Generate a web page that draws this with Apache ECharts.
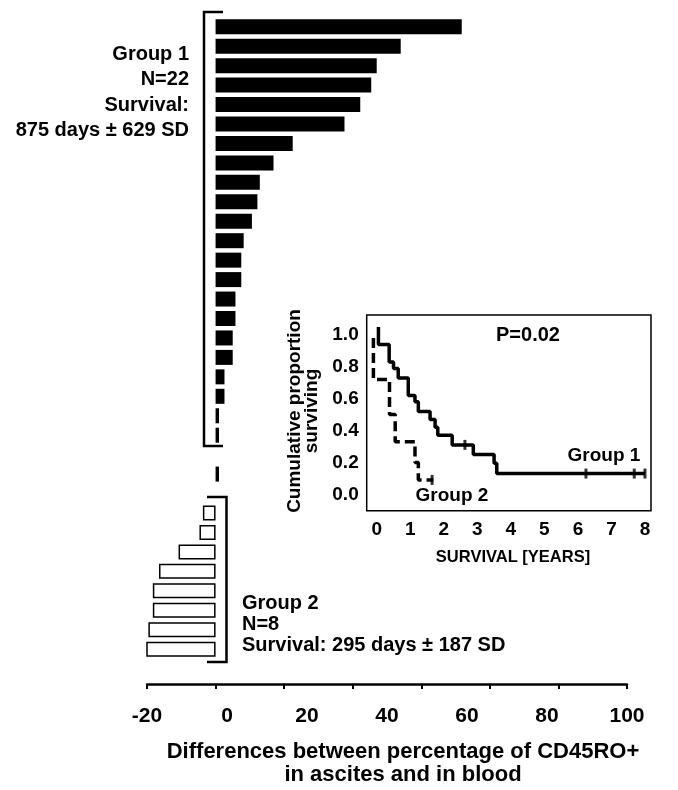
<!DOCTYPE html>
<html><head><meta charset="utf-8">
<script src="https://cdn.jsdelivr.net/npm/echarts@6/dist/echarts.min.js"></script>
<style>html,body{margin:0;padding:0;background:#fff}#c{width:678px;height:790px}</style>
</head><body><div id="c"></div>
<script>
// ---- data ----
const group1Diff = [71.8, 54.0, 47.0, 45.4, 42.2, 37.6, 22.5, 16.9, 12.9, 12.2, 10.6, 8.2, 7.5, 7.5, 5.8, 5.8, 5.0, 5.0, 2.6, 2.6, 1.0, 1.0];
const dividerDiff = [1.0];
const group2Diff = [-3.7, -4.7, -10.8, -16.5, -18.3, -18.3, -19.6, -22.2];
const diffAxisLabels = [-20, 0, 20, 40, 60, 80, 100];
const yearLabels = [0, 1, 2, 3, 4, 5, 6, 7, 8];
const survivalLabels = [0.0, 0.2, 0.4, 0.6, 0.8, 1.0];
const km1 = [[0.05,1.05],[0.05,0.94],[0.37,0.83],[0.5,0.79],[0.64,0.73],[0.94,0.62],[1.14,0.58],[1.24,0.52],[1.59,0.47],[1.74,0.42],[1.82,0.37],[2.25,0.31],[2.88,0.25],[3.5,0.195],[3.58,0.13],[8.0,0.13]];
const km1Censored = [[2.63,0.31],[6.24,0.13],[7.68,0.13],[8.0,0.13]];
const km2 = [[-0.1,0.98],[-0.1,0.72],[0.38,0.5],[0.55,0.33],[1.14,0.2],[1.24,0.09],[1.69,0.09]];
const km2Censored = [[1.65,0.09]];

// ---- build categories (group 1, gap with divider, group 2) ----
const gapBefore = 1, gapAfter = 1;
const categories = [];
group1Diff.forEach((v, i) => categories.push('G1-' + (i + 1)));
for (let i = 0; i < gapBefore; i++) categories.push('gapA' + i);
categories.push('divider');
for (let i = 0; i < gapAfter; i++) categories.push('gapB' + i);
group2Diff.forEach((v, i) => categories.push('G2-' + (i + 1)));
const n = categories.length;
const g1Data = categories.map((c, i) => i < group1Diff.length ? group1Diff[i] : null);
const divIdx = categories.indexOf('divider');
const divData = categories.map((c, i) => i === divIdx ? dividerDiff[0] : null);
const g2Start = n - group2Diff.length;
const g2Data = categories.map((c, i) => i >= g2Start ? group2Diff[i - g2Start] : null);

const FF = '"Liberation Sans", Arial, Helvetica, sans-serif';
const chart = echarts.init(document.getElementById('c'), null, {renderer: 'canvas'});
chart.setOption({
  backgroundColor: '#fff',
  animation: false,
  grid: [
    {left: 147, top: 17, width: 480, height: 641.9},
    {left: 366.7, top: 315, width: 284.3, height: 195.7, show: true, borderColor: '#000', borderWidth: 1.5, backgroundColor: '#fff', z: 5}
  ],
  xAxis: [
    {gridIndex: 0, type: 'value', min: -20, max: 120, interval: 20, position: 'bottom', offset: 25,
     axisLine: {show: true, lineStyle: {color: '#000', width: 2.5}},
     axisTick: {show: true, length: 5, lineStyle: {color: '#000', width: 2}},
     axisLabel: {show: false}, splitLine: {show: false}},
    {gridIndex: 0, type: 'value', min: -20, max: 100, interval: 20, position: 'bottom', offset: 25,
     axisLine: {show: false}, axisTick: {show: false}, splitLine: {show: false},
     axisLabel: {show: true, customValues: diffAxisLabels, margin: 22, color: '#000', fontSize: 21, fontWeight: 'bold', fontFamily: FF}},
    {gridIndex: 1, type: 'value', min: -0.3, max: 8.18, position: 'bottom',
     axisLine: {show: false}, axisTick: {show: false}, splitLine: {show: false},
     axisLabel: {show: true, customValues: yearLabels, margin: 10, color: '#000', fontSize: 19, fontWeight: 'bold', fontFamily: FF}}
  ],
  yAxis: [
    {gridIndex: 0, type: 'category', data: categories, inverse: true, show: false},
    {gridIndex: 1, type: 'value', min: -0.103, max: 1.125,
     axisLine: {show: false}, axisTick: {show: false}, splitLine: {show: false},
     axisLabel: {show: true, customValues: survivalLabels, formatter: v => v.toFixed(1), margin: 8, color: '#000', fontSize: 19, fontWeight: 'bold', fontFamily: FF}}
  ],
  series: [
    {type: 'bar', name: 'Divider', xAxisIndex: 0, yAxisIndex: 0, data: divData, barWidth: 15, barGap: '-100%', itemStyle: {color: '#000'}},
    {type: 'bar', name: 'Group 1', xAxisIndex: 0, yAxisIndex: 0, data: g1Data, barWidth: 15, barGap: '-100%', itemStyle: {color: '#000'}},
    {type: 'bar', name: 'Group 2', xAxisIndex: 0, yAxisIndex: 0, data: g2Data, barWidth: 15, barGap: '-100%', itemStyle: {color: '#fff', borderColor: '#000', borderWidth: 1.5}},
    {type: 'line', name: 'KM Group 1', xAxisIndex: 2, yAxisIndex: 1, data: km1, step: 'end', symbol: 'none', z: 6,
     lineStyle: {color: '#000', width: 3.5}},
    {type: 'line', name: 'KM Group 2', xAxisIndex: 2, yAxisIndex: 1, data: km2, step: 'end', symbol: 'none', z: 6,
     lineStyle: {color: '#000', width: 3.5, type: [10, 5]}},
    {type: 'scatter', name: 'Censored 1', xAxisIndex: 2, yAxisIndex: 1, data: km1Censored, symbol: 'rect', symbolSize: [3, 10], z: 7,
     itemStyle: {color: '#000'}},
    {type: 'scatter', name: 'Censored 2', xAxisIndex: 2, yAxisIndex: 1, data: km2Censored, symbol: 'rect', symbolSize: [3, 10], z: 7,
     itemStyle: {color: '#000'}}
  ],
  graphic: [
    {type: 'polyline', z: 10, shape: {points: [[223, 12], [204, 12], [204, 446], [223, 446]]}, style: {stroke: '#000', lineWidth: 2.5, fill: null}},
    {type: 'polyline', z: 10, shape: {points: [[207, 497], [226.5, 497], [226.5, 662], [207, 662]]}, style: {stroke: '#000', lineWidth: 2.5, fill: null}},
    {type: 'text', z: 10, x: 189, y: 92.5, style: {text: 'Group 1\nN=22\nSurvival:\n875 days \u00b1 629 SD', align: 'right', verticalAlign: 'middle', lineHeight: 25.5, fontSize: 20, fontWeight: 'bold', fontFamily: FF, fill: '#000'}},
    {type: 'text', z: 10, x: 242, y: 624, style: {text: 'Group 2\nN=8\nSurvival: 295 days \u00b1 187 SD', align: 'left', verticalAlign: 'middle', lineHeight: 21, fontSize: 20, fontWeight: 'bold', fontFamily: FF, fill: '#000'}},
    {type: 'text', z: 10, x: 403, y: 763, style: {text: 'Differences between percentage of CD45RO+\nin ascites and in blood', align: 'center', verticalAlign: 'middle', lineHeight: 23, fontSize: 22, fontWeight: 'bold', fontFamily: FF, fill: '#000'}},
    {type: 'text', z: 10, x: 528, y: 335, style: {text: 'P=0.02', align: 'center', verticalAlign: 'middle', fontSize: 20, fontWeight: 'bold', fontFamily: FF, fill: '#000'}},
    {type: 'text', z: 10, x: 604, y: 456, style: {text: 'Group 1', align: 'center', verticalAlign: 'middle', fontSize: 19, fontWeight: 'bold', fontFamily: FF, fill: '#000'}},
    {type: 'text', z: 10, x: 452, y: 496, style: {text: 'Group 2', align: 'center', verticalAlign: 'middle', fontSize: 19, fontWeight: 'bold', fontFamily: FF, fill: '#000'}},
    {type: 'text', z: 10, x: 513, y: 557, style: {text: 'SURVIVAL [YEARS]', align: 'center', verticalAlign: 'middle', fontSize: 16.5, fontWeight: 'bold', fontFamily: FF, fill: '#000'}},
    {type: 'text', z: 10, x: 303, y: 411, rotation: Math.PI / 2, style: {text: 'Cumulative proportion\nsurviving', align: 'center', verticalAlign: 'middle', lineHeight: 17, fontSize: 19, fontWeight: 'bold', fontFamily: FF, fill: '#000'}}
  ]
});
</script></body></html>
